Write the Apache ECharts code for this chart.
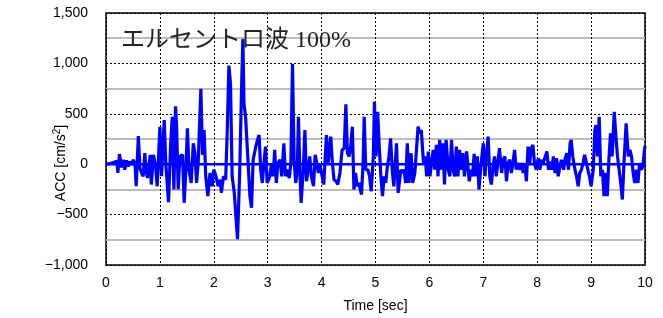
<!DOCTYPE html>
<html>
<head>
<meta charset="utf-8">
<script src="https://cdn.jsdelivr.net/npm/echarts@6/dist/echarts.min.js"></script>
<style>
  html, body { margin: 0; padding: 0; background: #fff; }
  #chart { width: 663px; height: 318px; }
</style>
</head>
<body>
<div id="chart"></div>
<script>
// 時刻 [sec]
const timeSec = [
  0.00, 0.09, 0.15, 0.20, 0.22, 0.25, 0.29, 0.32, 0.35, 0.38, 0.41, 0.44, 0.47, 0.51, 0.54, 0.56,
  0.60, 0.63, 0.67, 0.69, 0.72, 0.74, 0.77, 0.82, 0.84, 0.88, 0.92, 0.95,
  1.00, 1.03, 1.08, 1.11, 1.16, 1.20, 1.23, 1.26, 1.29, 1.31, 1.34, 1.37, 1.42, 1.45, 1.48,
  1.51, 1.54, 1.58, 1.62, 1.65, 1.68, 1.71, 1.76, 1.79, 1.82, 1.85, 1.89, 1.93, 1.97,
  2.00, 2.04, 2.08, 2.12, 2.14, 2.18, 2.22, 2.25, 2.28, 2.31, 2.34, 2.38, 2.41, 2.44, 2.48,
  2.52, 2.54, 2.56, 2.59, 2.62, 2.67, 2.70, 2.73, 2.78, 2.81, 2.84, 2.87, 2.90, 2.93, 2.96, 2.99,
  3.04, 3.07, 3.10, 3.13, 3.16, 3.19, 3.23, 3.26,
  3.30, 3.33, 3.36, 3.40, 3.43, 3.46, 3.49, 3.52, 3.55, 3.57, 3.60, 3.62, 3.66, 3.69, 3.72,
  3.75, 3.78, 3.81, 3.85, 3.88, 3.91, 3.94, 3.97,
  4.01, 4.04, 4.09, 4.12, 4.17, 4.20, 4.23, 4.27, 4.30, 4.34, 4.38, 4.42, 4.45, 4.48,
  4.51, 4.54, 4.57, 4.60, 4.63, 4.66, 4.69, 4.74, 4.77, 4.79, 4.82, 4.86, 4.89, 4.92, 4.96, 4.98,
  5.01, 5.04, 5.07, 5.10, 5.13, 5.16, 5.19, 5.22, 5.25, 5.28, 5.31, 5.34, 5.39, 5.42, 5.47,
  5.50, 5.53, 5.56, 5.59, 5.62, 5.66, 5.69, 5.73, 5.76, 5.79, 5.82, 5.85, 5.89, 5.92, 5.95, 5.98,
  6.01, 6.04, 6.07, 6.10, 6.13, 6.16, 6.19, 6.22, 6.25, 6.28, 6.31, 6.35, 6.38, 6.41, 6.44, 6.47,
  6.50, 6.53, 6.56, 6.59, 6.62, 6.65, 6.69,
  6.70, 6.74, 6.77, 6.80, 6.83, 6.86, 6.89, 6.92, 6.95, 6.98,
  7.00, 7.03, 7.05, 7.09, 7.12, 7.15, 7.18, 7.21, 7.24, 7.27, 7.30, 7.34, 7.37, 7.40, 7.43, 7.46, 7.49,
  7.52, 7.55, 7.58, 7.61, 7.64, 7.68, 7.71, 7.74, 7.77, 7.80, 7.83, 7.86, 7.89, 7.92, 7.95, 7.98,
  8.02, 8.05, 8.08, 8.11, 8.15, 8.18, 8.21, 8.24, 8.27, 8.30, 8.33, 8.36, 8.39, 8.42, 8.45, 8.49,
  8.52, 8.55, 8.58, 8.61, 8.63, 8.66, 8.70, 8.73, 8.76, 8.79, 8.82, 8.85, 8.88, 8.91, 8.94, 8.97,
  9.00, 9.04, 9.07, 9.09, 9.12, 9.15, 9.18, 9.21, 9.24, 9.27, 9.30, 9.33, 9.36, 9.39, 9.43, 9.46, 9.49,
  9.52, 9.55, 9.58, 9.61, 9.65, 9.69, 9.72, 9.75, 9.78, 9.81, 9.84, 9.87, 9.90, 9.93, 9.96, 9.99, 10.00
];

// 加速度 [cm/s2]
const accCmS2 = [
  0, 10, 20, 30, -87, 100, -33, 44, -55, 38, -22, 27, -5, 44, -22, -219,
  280, -40, -100, -120, 109, -50, -137, 93, -202, 93, -22, -219,
  372, -120, 437, 0, -376, 208, 470, -251, 575, 372, -251, 77, 93, -383, -87,
  355, -55, -186, 208, 109, -186, 11, 749, 93, 339, -120, -317, -87, -219,
  -55, -120, -219, -153, -284, -120, -153, 339, 979, 798, -120, -284, -514, -743, -87,
  864, 1241, 601, 470, 175, -317, -432, 44, 175, 241, 290, -55, -186, 11, 175, -186,
  -120, 11, -120, 142, -186, 11, 44, -120,
  208, -120, -55, -137, 11, 995, 44, -186, -55, 470, -120, -383, -55, 339, -169,
  -55, 77, -120, -219, 93, 11, -87, -5,
  -120, -202, 290, 11, 273, 11, -153, -169, -202, -87, 142, 159, 595, 109,
  77, 175, 372, -251, -87, -219, -186, -301, 11, 470, -55, -55, -120, -268, 77, 618,
  77, 519, 175, -120, -317, -120, -186, -22, 77, 257, -55, -219, 208, -284, -55,
  -87, -55, -186, 208, -186, 109, -186, -87, 142, 372, 306, 339, 11, 77, -120, 126,
  -120, 11, 142, -55, 191, -120, 241, -55, 208, -202, 241, -55, -120, 241, -55, -120,
  175, -120, 142, -55, 109, -120, 126,
  126, -169, -55, -120, 103, -120, 77, -251, -55, 109,
  208, -120, 44, 273, -120, -202, -22, 77, -120, 11, 159, -87, 44, 77, -169, 11, 44,
  -87, 11, 142, -55, 11, -55, 11, -87, 11, -169, 175, 11, 159, 191, 11, -55,
  60, -55, 44, 11, 77, 126, -55, 27, -55, 77, -87, 60, -120, -22, 44, -55,
  60, 109, -55, 208, 241, 77, -55, -120, -219, -87, -55, 11, 93, 77, -55, -120,
  -219, -55, 339, 388, 77, 470, -120, -55, -317, -87, -317, 44, 306, 77, 519, 273, 77,
  -55, -186, -350, 11, 405, 77, 142, 77, -87, -186, -55, -186, 11, -55, -22, 142, 180
];

// 軸目盛
const xTicks = [0, 1, 2, 3, 4, 5, 6, 7, 8, 9, 10];
const yTicks = [-1000, -500, 0, 500, 1000, 1500];

const chart = echarts.init(document.getElementById('chart'));

const waveData = timeSec.map((t, i) => [t, accCmS2[i]]);
const zeroData = [[xTicks[0], 0], [xTicks[xTicks.length - 1], 0]];

const labelFont = '"Liberation Sans", Arial, sans-serif';

const option = {
  animation: false,
  backgroundColor: '#fff',
  title: {
    text: 'エルセントロ波 100%',
    left: 116,
    top: 24,
    textStyle: {
      fontFamily: '"Liberation Serif", "Noto Sans CJK JP", serif',
      fontSize: 24,
      fontWeight: 'normal',
      color: '#222'
    }
  },
  grid: {
    left: 106,
    right: 18,
    top: 13,
    bottom: 51,
    show: true,
    borderColor: '#000',
    borderWidth: 1.5
  },
  xAxis: {
    type: 'value',
    min: xTicks[0],
    max: xTicks[xTicks.length - 1],
    interval: 1,
    name: 'Time [sec]',
    nameLocation: 'middle',
    nameGap: 34,
    nameTextStyle: { fontFamily: labelFont, fontSize: 14, color: '#000' },
    axisLine: { show: false },
    axisTick: { show: false },
    axisLabel: { margin: 11, fontFamily: labelFont, fontSize: 14, color: '#000' },
    splitLine: { show: true, lineStyle: { color: '#000', type: [2, 2], width: 1 } }
  },
  yAxis: {
    type: 'value',
    min: yTicks[0],
    max: yTicks[yTicks.length - 1],
    interval: 500,
    axisLine: { show: false },
    axisTick: { show: false },
    axisLabel: {
      margin: 18,
      fontFamily: labelFont,
      fontSize: 14,
      color: '#000',
      formatter: v => (v < 0 ? '\u2212' : '') + Math.abs(v).toLocaleString('en-US')
    },
    splitLine: { show: true, lineStyle: { color: '#000', type: [2, 2], width: 1 } },
    minorTick: { show: false, splitNumber: 2 },
    minorSplitLine: { show: true, lineStyle: { color: '#bdbdbd', width: 2 } }
  },
  graphic: [{
    type: 'text',
    x: 61,
    y: 163,
    rotation: Math.PI / 2,
    style: {
      text: 'ACC [cm/s{sup|2}]',
      fontFamily: labelFont,
      fontSize: 14,
      fill: '#000',
      align: 'center',
      verticalAlign: 'middle',
      rich: { sup: { fontSize: 10, verticalAlign: 'top', padding: [0, 0, 8, 0] } }
    }
  }],
  series: [
    {
      type: 'line',
      data: zeroData,
      showSymbol: false,
      lineStyle: { color: '#0000ff', width: 2.5 },
      z: 2
    },
    {
      type: 'line',
      data: waveData,
      showSymbol: false,
      lineStyle: { color: '#0000ff', width: 3.2 },
      z: 3
    }
  ]
};

chart.setOption(option);
</script>
</body>
</html>
